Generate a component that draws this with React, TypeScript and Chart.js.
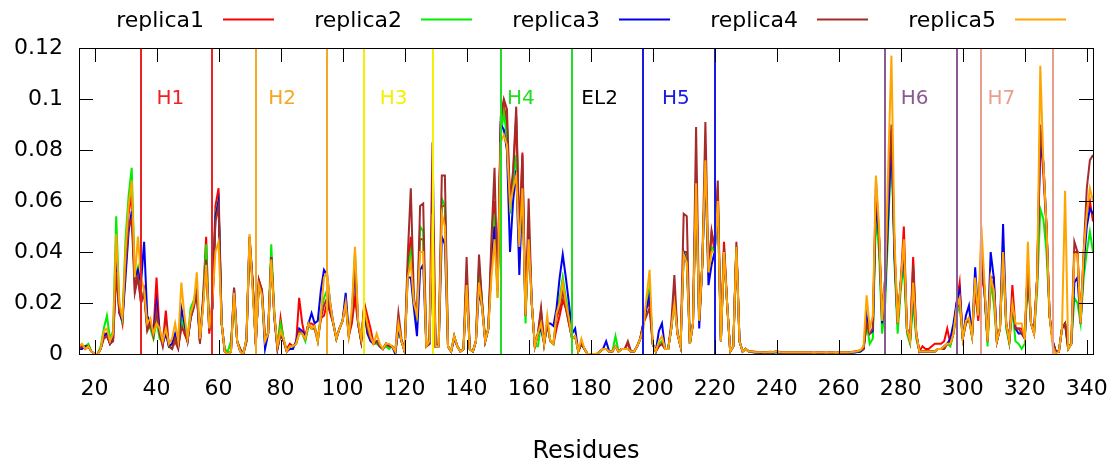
import React, { useEffect, useRef } from 'react';
import { Chart, registerables } from 'chart.js';

Chart.register(...registerables);

// Residue numbering: first value belongs to residue 15, one value per residue up to 342
const startResidue = 15;

const replica1 = [
  0.002, 0.003, 0.002, 0.003, 0.001, 0, 0, 0.002, 0.008, 0.008,
  0.004, 0.006, 0.033, 0.018, 0.012, 0.035, 0.055, 0.063, 0.025, 0.032,
  0.020, 0.025, 0.010, 0.013, 0.008, 0.030, 0.008, 0.004, 0.017, 0.003,
  0.002, 0.005, 0.002, 0.012, 0.008, 0.005, 0.015, 0.020, 0.025, 0.005,
  0.022, 0.046, 0.008, 0.020, 0.058, 0.065, 0.012, 0.001, 0, 0.001,
  0.024, 0.005, 0.001, 0, 0.005, 0.044, 0.028, 0.003, 0.029, 0.025,
  0.006, 0.008, 0.038, 0.015, 0.002, 0.014, 0.005, 0.002, 0.004, 0.003,
  0.004, 0.022, 0.012, 0.006, 0.012, 0.012, 0.011, 0.006, 0.014, 0.015,
  0.020, 0.016, 0.012, 0.006, 0.010, 0.013, 0.020, 0.007, 0.012, 0.022,
  0.012, 0.005, 0.020, 0.015, 0.010, 0.004, 0.005, 0.003, 0.002, 0.004,
  0.003, 0.003, 0.001, 0.010, 0.005, 0.001, 0.033, 0.046, 0.020, 0.015,
  0.045, 0.045, 0.003, 0.004, 0.055, 0.003, 0.003, 0.058, 0.058, 0.003,
  0.001, 0.007, 0.003, 0.001, 0.002, 0.030, 0.002, 0.001, 0.005, 0.034,
  0.020, 0.005, 0.010, 0.040, 0.060, 0.025, 0.090, 0.098, 0.090, 0.060,
  0.070, 0.093, 0.045, 0.079, 0.015, 0.050, 0.020, 0.003, 0.008, 0.017,
  0.004, 0.012, 0.005, 0.004, 0.010, 0.015, 0.021, 0.018, 0.012, 0.006,
  0.007, 0.001, 0.004, 0.002, 0, 0, 0, 0, 0.001, 0.002,
  0.002, 0.001, 0.001, 0.003, 0.001, 0.002, 0.002, 0.004, 0.001, 0.001,
  0.003, 0.006, 0.012, 0.018, 0.020, 0.004, 0.001, 0.003, 0.004, 0.002,
  0.002, 0.010, 0.025, 0.008, 0.003, 0.040, 0.040, 0.004, 0.012, 0.068,
  0.013, 0.035, 0.074, 0.032, 0.048, 0.040, 0.065, 0.005, 0.044, 0.020,
  0.001, 0.003, 0.042, 0.005, 0.001, 0.002, 0.001, 0.001, 0.0008, 0.0006,
  0.0006, 0.0005, 0.0006, 0.0008, 0.0006, 0.001, 0.0006, 0.0005, 0.0005, 0.0006,
  0.0005, 0.0006, 0.0005, 0.0005, 0.0006, 0.0005, 0.0005, 0.0004, 0.0005, 0.0005,
  0.0005, 0.0004, 0.0005, 0.0005, 0.0004, 0.0005, 0.0005, 0.0006, 0.0005, 0.0006,
  0.0008, 0.001, 0.001, 0.002, 0.012, 0.008, 0.009, 0.062, 0.046, 0.015,
  0.030, 0.060, 0.088, 0.040, 0.012, 0.028, 0.050, 0.010, 0.005, 0.038,
  0.008, 0.001, 0.003, 0.002, 0.002, 0.003, 0.004, 0.004, 0.004, 0.005,
  0.010, 0.004, 0.008, 0.020, 0.028, 0.006, 0.012, 0.014, 0.007, 0.025,
  0.013, 0.030, 0.025, 0.005, 0.030, 0.030, 0.005, 0.010, 0.040, 0.012,
  0.005, 0.027, 0.010, 0.010, 0.010, 0.006, 0.035, 0.012, 0.008, 0.030,
  0.088, 0.070, 0.050, 0.015, 0.005, 0.001, 0.001, 0.010, 0.012, 0.002,
  0.004, 0.040, 0.040, 0.012, 0.040, 0.055, 0.060, 0.052,
];

const replica2 = [
  0.003, 0.003, 0.003, 0.004, 0.001, 0, 0, 0.003, 0.010, 0.015,
  0.006, 0.009, 0.054, 0.020, 0.012, 0.045, 0.062, 0.073, 0.030, 0.034,
  0.022, 0.024, 0.011, 0.010, 0.006, 0.013, 0.006, 0.005, 0.010, 0.003,
  0.002, 0.006, 0.003, 0.014, 0.010, 0.006, 0.018, 0.021, 0.026, 0.006,
  0.020, 0.043, 0.010, 0.018, 0.055, 0.060, 0.012, 0.002, 0.001, 0.005,
  0.020, 0.005, 0.002, 0, 0.005, 0.045, 0.027, 0.004, 0.028, 0.024,
  0.004, 0.009, 0.043, 0.016, 0.003, 0.012, 0.006, 0.001, 0.003, 0.003,
  0.004, 0.008, 0.008, 0.005, 0.011, 0.010, 0.010, 0.005, 0.016, 0.022,
  0.025, 0.018, 0.012, 0.006, 0.010, 0.013, 0.021, 0.008, 0.015, 0.040,
  0.013, 0.006, 0.017, 0.009, 0.006, 0.004, 0.004, 0.003, 0.002, 0.003,
  0.002, 0.003, 0.001, 0.010, 0.005, 0.001, 0.033, 0.040, 0.020, 0.014,
  0.050, 0.048, 0.003, 0.004, 0.055, 0.003, 0.003, 0.061, 0.058, 0.003,
  0.001, 0.007, 0.003, 0.001, 0.002, 0.030, 0.002, 0.001, 0.005, 0.035,
  0.020, 0.005, 0.010, 0.035, 0.055, 0.022, 0.085, 0.095, 0.085, 0.055,
  0.068, 0.078, 0.045, 0.070, 0.012, 0.050, 0.020, 0.003, 0.003, 0.012,
  0.004, 0.012, 0.005, 0.004, 0.015, 0.022, 0.030, 0.022, 0.015, 0.006,
  0.007, 0.001, 0.004, 0.002, 0, 0, 0, 0, 0.001, 0.002,
  0.002, 0.001, 0.001, 0.007, 0.001, 0.002, 0.002, 0.002, 0.001, 0.001,
  0.003, 0.006, 0.012, 0.020, 0.026, 0.004, 0.001, 0.004, 0.005, 0.002,
  0.002, 0.010, 0.020, 0.008, 0.003, 0.040, 0.038, 0.004, 0.012, 0.068,
  0.013, 0.035, 0.074, 0.032, 0.042, 0.040, 0.060, 0.005, 0.040, 0.020,
  0.001, 0.003, 0.042, 0.005, 0.001, 0.002, 0.001, 0.0008, 0.0006, 0.0005,
  0.0004, 0.0004, 0.0005, 0.0006, 0.0005, 0.0008, 0.0005, 0.0004, 0.0004, 0.0005,
  0.0004, 0.0005, 0.0004, 0.0004, 0.0005, 0.0004, 0.0004, 0.0004, 0.0004, 0.0004,
  0.0004, 0.0003, 0.0004, 0.0004, 0.0003, 0.0004, 0.0004, 0.0005, 0.0004, 0.0005,
  0.0006, 0.0008, 0.001, 0.002, 0.012, 0.004, 0.006, 0.055, 0.040, 0.008,
  0.020, 0.050, 0.085, 0.035, 0.008, 0.025, 0.035, 0.008, 0.004, 0.020,
  0.006, 0.001, 0.001, 0.001, 0.001, 0.001, 0.001, 0.002, 0.002, 0.002,
  0.004, 0.003, 0.008, 0.015, 0.020, 0.006, 0.012, 0.014, 0.007, 0.028,
  0.015, 0.040, 0.025, 0.003, 0.028, 0.020, 0.005, 0.010, 0.038, 0.010,
  0.004, 0.018, 0.005, 0.004, 0.002, 0.004, 0.032, 0.012, 0.008, 0.025,
  0.057, 0.053, 0.040, 0.015, 0.005, 0.001, 0.001, 0.010, 0.012, 0.002,
  0.004, 0.022, 0.020, 0.012, 0.030, 0.040, 0.048, 0.040,
];

const replica3 = [
  0.002, 0.002, 0.003, 0.003, 0.001, 0, 0, 0.002, 0.007, 0.008,
  0.004, 0.006, 0.038, 0.016, 0.013, 0.030, 0.048, 0.056, 0.030, 0.033,
  0.028, 0.044, 0.015, 0.012, 0.008, 0.020, 0.009, 0.004, 0.008, 0.003,
  0.004, 0.008, 0.003, 0.018, 0.012, 0.005, 0.014, 0.019, 0.024, 0.005,
  0.020, 0.036, 0.010, 0.018, 0.054, 0.060, 0.012, 0.001, 0, 0.001,
  0.026, 0.005, 0.001, 0, 0.006, 0.046, 0.028, 0.004, 0.027, 0.024,
  0.002, 0.008, 0.038, 0.014, 0.002, 0.008, 0.005, 0.001, 0.002, 0.002,
  0.005, 0.010, 0.009, 0.007, 0.012, 0.016, 0.012, 0.013, 0.025, 0.033,
  0.031, 0.020, 0.012, 0.006, 0.010, 0.013, 0.024, 0.008, 0.015, 0.035,
  0.012, 0.005, 0.017, 0.008, 0.005, 0.004, 0.005, 0.003, 0.002, 0.004,
  0.003, 0.003, 0, 0.010, 0.005, 0.001, 0.030, 0.030, 0.018, 0.007,
  0.033, 0.035, 0.003, 0.004, 0.052, 0.003, 0.003, 0.046, 0.043, 0.003,
  0.001, 0.006, 0.003, 0.001, 0.002, 0.028, 0.002, 0.001, 0.005, 0.025,
  0.018, 0.005, 0.010, 0.035, 0.050, 0.025, 0.090, 0.088, 0.080, 0.040,
  0.060, 0.072, 0.031, 0.065, 0.015, 0.048, 0.020, 0.003, 0.008, 0.010,
  0.004, 0.012, 0.012, 0.011, 0.018, 0.030, 0.039, 0.030, 0.020, 0.008,
  0.010, 0.001, 0.004, 0.002, 0, 0, 0, 0, 0.001, 0.002,
  0.005, 0.001, 0.001, 0.003, 0.001, 0.002, 0.002, 0.002, 0.001, 0.001,
  0.003, 0.006, 0.012, 0.018, 0.023, 0.004, 0.001, 0.009, 0.012, 0.002,
  0.002, 0.010, 0.022, 0.008, 0.003, 0.040, 0.036, 0.004, 0.012, 0.070,
  0.010, 0.035, 0.074, 0.027, 0.035, 0.040, 0.060, 0.005, 0.040, 0.020,
  0.001, 0.003, 0.042, 0.005, 0.001, 0.002, 0.001, 0.0008, 0.0006, 0.0005,
  0.0004, 0.0004, 0.0005, 0.0006, 0.0005, 0.0008, 0.0005, 0.0004, 0.0004, 0.0005,
  0.0004, 0.0005, 0.0004, 0.0004, 0.0005, 0.0004, 0.0004, 0.0004, 0.0004, 0.0004,
  0.0004, 0.0003, 0.0004, 0.0004, 0.0003, 0.0004, 0.0004, 0.0005, 0.0004, 0.0005,
  0.0006, 0.0008, 0.001, 0.002, 0.015, 0.008, 0.009, 0.060, 0.046, 0.012,
  0.025, 0.055, 0.085, 0.038, 0.012, 0.028, 0.040, 0.010, 0.005, 0.025,
  0.008, 0.001, 0.001, 0.001, 0.001, 0.001, 0.001, 0.002, 0.002, 0.003,
  0.004, 0.006, 0.012, 0.020, 0.025, 0.006, 0.015, 0.019, 0.007, 0.034,
  0.015, 0.040, 0.025, 0.005, 0.040, 0.030, 0.005, 0.010, 0.051, 0.012,
  0.005, 0.020, 0.010, 0.008, 0.008, 0.006, 0.035, 0.012, 0.010, 0.030,
  0.083, 0.075, 0.050, 0.015, 0.005, 0.001, 0.001, 0.010, 0.012, 0.003,
  0.004, 0.028, 0.030, 0.012, 0.035, 0.050, 0.057, 0.055,
];

const replica4 = [
  0.002, 0.003, 0.002, 0.003, 0.001, 0, 0, 0.002, 0.006, 0.007,
  0.004, 0.005, 0.032, 0.016, 0.014, 0.035, 0.050, 0.053, 0.024, 0.030,
  0.020, 0.024, 0.009, 0.012, 0.007, 0.017, 0.008, 0.003, 0.012, 0.003,
  0.002, 0.006, 0.003, 0.010, 0.009, 0.005, 0.014, 0.018, 0.024, 0.004,
  0.020, 0.037, 0.009, 0.018, 0.052, 0.058, 0.012, 0.001, 0, 0.001,
  0.026, 0.005, 0.002, 0, 0.005, 0.046, 0.028, 0.004, 0.029, 0.025,
  0.006, 0.008, 0.038, 0.015, 0.002, 0.008, 0.005, 0.001, 0.003, 0.003,
  0.004, 0.009, 0.008, 0.006, 0.012, 0.010, 0.010, 0.005, 0.014, 0.019,
  0.022, 0.017, 0.012, 0.006, 0.010, 0.013, 0.020, 0.007, 0.014, 0.035,
  0.012, 0.005, 0.019, 0.010, 0.006, 0.004, 0.005, 0.003, 0.002, 0.004,
  0.003, 0.003, 0.001, 0.016, 0.006, 0.001, 0.038, 0.065, 0.022, 0.015,
  0.058, 0.059, 0.003, 0.004, 0.083, 0.003, 0.004, 0.070, 0.070, 0.003,
  0.001, 0.007, 0.003, 0.001, 0.002, 0.038, 0.002, 0.001, 0.005, 0.039,
  0.020, 0.005, 0.010, 0.045, 0.073, 0.025, 0.093, 0.100, 0.096, 0.060,
  0.072, 0.097, 0.045, 0.078, 0.015, 0.061, 0.020, 0.003, 0.008, 0.018,
  0.004, 0.012, 0.005, 0.004, 0.014, 0.018, 0.025, 0.018, 0.012, 0.006,
  0.007, 0.001, 0.004, 0.002, 0, 0, 0, 0, 0.001, 0.002,
  0.002, 0.001, 0.001, 0.003, 0.001, 0.002, 0.002, 0.005, 0.001, 0.001,
  0.003, 0.006, 0.012, 0.015, 0.018, 0.004, 0.001, 0.003, 0.004, 0.002,
  0.002, 0.012, 0.031, 0.008, 0.003, 0.055, 0.054, 0.004, 0.012, 0.089,
  0.013, 0.035, 0.091, 0.032, 0.048, 0.042, 0.068, 0.005, 0.042, 0.020,
  0.001, 0.003, 0.044, 0.005, 0.001, 0.002, 0.001, 0.001, 0.0009, 0.0008,
  0.0008, 0.0007, 0.0008, 0.0009, 0.0008, 0.0012, 0.0008, 0.0007, 0.0007, 0.0008,
  0.0007, 0.0008, 0.0007, 0.0007, 0.0008, 0.0007, 0.0007, 0.0006, 0.0007, 0.0007,
  0.0007, 0.0006, 0.0007, 0.0007, 0.0006, 0.0007, 0.0007, 0.0008, 0.0007, 0.0008,
  0.001, 0.0012, 0.0015, 0.002, 0.012, 0.008, 0.010, 0.068, 0.046, 0.015,
  0.030, 0.065, 0.090, 0.040, 0.012, 0.028, 0.043, 0.010, 0.005, 0.035,
  0.008, 0.001, 0.001, 0.001, 0.001, 0.001, 0.001, 0.002, 0.002, 0.002,
  0.004, 0.004, 0.008, 0.018, 0.020, 0.006, 0.012, 0.014, 0.007, 0.028,
  0.015, 0.043, 0.025, 0.005, 0.030, 0.025, 0.005, 0.010, 0.040, 0.012,
  0.005, 0.020, 0.010, 0.010, 0.008, 0.006, 0.035, 0.012, 0.008, 0.030,
  0.090, 0.075, 0.050, 0.015, 0.005, 0.001, 0.001, 0.010, 0.012, 0.002,
  0.004, 0.044, 0.040, 0.012, 0.040, 0.065, 0.076, 0.078,
];

const replica5 = [
  0.003, 0.004, 0.002, 0.003, 0.001, 0, 0, 0.002, 0.009, 0.010,
  0.005, 0.008, 0.047, 0.020, 0.014, 0.040, 0.058, 0.068, 0.030, 0.046,
  0.030, 0.025, 0.012, 0.014, 0.008, 0.012, 0.010, 0.005, 0.010, 0.004,
  0.006, 0.012, 0.005, 0.028, 0.015, 0.006, 0.016, 0.020, 0.032, 0.006,
  0.018, 0.035, 0.010, 0.020, 0.040, 0.044, 0.012, 0.001, 0, 0.001,
  0.024, 0.005, 0.001, 0, 0.006, 0.047, 0.025, 0.004, 0.027, 0.023,
  0.005, 0.008, 0.037, 0.015, 0.003, 0.009, 0.006, 0.001, 0.003, 0.003,
  0.004, 0.008, 0.008, 0.006, 0.012, 0.010, 0.011, 0.005, 0.015, 0.030,
  0.032, 0.020, 0.012, 0.006, 0.010, 0.013, 0.020, 0.007, 0.018, 0.042,
  0.013, 0.006, 0.018, 0.012, 0.007, 0.004, 0.008, 0.004, 0.002, 0.004,
  0.004, 0.003, 0.001, 0.012, 0.005, 0.001, 0.030, 0.036, 0.020, 0.015,
  0.040, 0.040, 0.003, 0.005, 0.055, 0.003, 0.003, 0.055, 0.050, 0.003,
  0.001, 0.007, 0.003, 0.001, 0.002, 0.027, 0.002, 0.001, 0.005, 0.028,
  0.018, 0.005, 0.010, 0.030, 0.045, 0.022, 0.083, 0.086, 0.082, 0.058,
  0.065, 0.070, 0.042, 0.065, 0.015, 0.045, 0.020, 0.003, 0.008, 0.012,
  0.004, 0.015, 0.005, 0.004, 0.016, 0.020, 0.028, 0.020, 0.014, 0.006,
  0.007, 0.001, 0.006, 0.002, 0, 0, 0, 0, 0.001, 0.002,
  0.002, 0.001, 0.001, 0.003, 0.001, 0.002, 0.002, 0.002, 0.001, 0.001,
  0.003, 0.006, 0.010, 0.022, 0.033, 0.004, 0.001, 0.005, 0.007, 0.002,
  0.002, 0.010, 0.020, 0.008, 0.003, 0.039, 0.036, 0.004, 0.012, 0.067,
  0.013, 0.035, 0.076, 0.032, 0.040, 0.040, 0.060, 0.005, 0.040, 0.020,
  0.001, 0.003, 0.042, 0.005, 0.001, 0.002, 0.001, 0.001, 0.0008, 0.0007,
  0.0007, 0.0006, 0.0007, 0.0008, 0.0007, 0.0011, 0.0007, 0.0006, 0.0006, 0.0007,
  0.0006, 0.0007, 0.0006, 0.0006, 0.0007, 0.0006, 0.0006, 0.0005, 0.0006, 0.0006,
  0.0006, 0.0005, 0.0006, 0.0006, 0.0005, 0.0006, 0.0006, 0.0007, 0.0006, 0.0007,
  0.0009, 0.0011, 0.0015, 0.003, 0.023, 0.010, 0.015, 0.070, 0.050, 0.013,
  0.030, 0.075, 0.117, 0.045, 0.012, 0.028, 0.045, 0.010, 0.005, 0.028,
  0.008, 0.001, 0.001, 0.001, 0.001, 0.001, 0.001, 0.002, 0.002, 0.003,
  0.004, 0.004, 0.008, 0.018, 0.022, 0.006, 0.013, 0.014, 0.007, 0.030,
  0.015, 0.050, 0.028, 0.005, 0.030, 0.025, 0.005, 0.010, 0.040, 0.012,
  0.005, 0.020, 0.012, 0.012, 0.012, 0.006, 0.044, 0.012, 0.008, 0.030,
  0.113, 0.075, 0.050, 0.015, 0.003, 0, 0.001, 0.010, 0.064, 0.002,
  0.004, 0.039, 0.039, 0.012, 0.040, 0.055, 0.065, 0.060,
];

const seriesNames = ['replica1', 'replica2', 'replica3', 'replica4', 'replica5'];
const seriesColors = ['#ff0000', '#00ee00', '#0000ee', '#a52a2a', '#ffa500'];

const xMin = 15;
const xMax = 342;
const xTickValues = [20, 40, 60, 80, 100, 120, 140, 160, 180, 200, 220, 240, 260, 280, 300, 320, 340];
const yTickValues = [0, 0.02, 0.04, 0.06, 0.08, 0.1, 0.12];
const yTickLabels = ['0', '0.02', '0.04', '0.06', '0.08', '0.1', '0.12'];

// Helix boundary markers (residue numbers) and their colours
const helixLines = [35, 58, 72, 95, 107, 129, 151, 174, 197, 220, 275, 298, 306, 329];
const helixLineColors = [
  '#ee2222', '#ee2222', '#f5a623', '#f5a623', '#f5f000', '#f5f000', '#22dd22', '#22dd22',
  '#1a1ae6', '#1a1ae6', '#8a5a94', '#8a5a94', '#e8a08c', '#e8a08c',
];
const regionLabels = ['H1', 'H2', 'H3', 'H4', 'EL2', 'H5', 'H6', 'H7'];
const regionLabelX = [40, 76, 112, 153, 177, 203, 280, 308];
const regionLabelColors = ['#ee2222', '#f5a623', '#f5f000', '#22dd22', '#000000', '#1a1ae6', '#8a5a94', '#e8a08c'];
const regionLabelY = 0.1;

const FONT = '"DejaVu Sans", "Liberation Sans", sans-serif';

const decorPlugin = {
  id: 'decor',
  afterDatasetsDraw(chart: any) {
    const { ctx, chartArea: a, scales } = chart;
    const xs = scales.x;
    const ys = scales.y;
    ctx.save();

    // helix boundary lines
    ctx.lineWidth = 2;
    helixLines.forEach((r, i) => {
      const px = Math.round(xs.getPixelForValue(r));
      ctx.strokeStyle = helixLineColors[i];
      ctx.beginPath();
      ctx.moveTo(px, a.top);
      ctx.lineTo(px, a.bottom);
      ctx.stroke();
    });

    // region labels
    ctx.font = `20px ${FONT}`;
    ctx.textAlign = 'left';
    ctx.textBaseline = 'middle';
    regionLabels.forEach((t, i) => {
      ctx.fillStyle = regionLabelColors[i];
      ctx.fillText(t, xs.getPixelForValue(regionLabelX[i]), ys.getPixelForValue(regionLabelY));
    });

    // frame
    ctx.strokeStyle = '#000';
    ctx.lineWidth = 1;
    ctx.strokeRect(Math.round(a.left) + 0.5, Math.round(a.top) + 0.5, Math.round(a.right - a.left), Math.round(a.bottom - a.top));

    // inward mirrored ticks
    const tl = 14;
    ctx.beginPath();
    xTickValues.forEach((v) => {
      const px = Math.round(xs.getPixelForValue(v)) + 0.5;
      ctx.moveTo(px, a.bottom);
      ctx.lineTo(px, a.bottom - tl);
      ctx.moveTo(px, a.top);
      ctx.lineTo(px, a.top + tl);
    });
    yTickValues.forEach((v) => {
      const py = Math.round(ys.getPixelForValue(v)) + 0.5;
      ctx.moveTo(a.left, py);
      ctx.lineTo(a.left + tl, py);
      ctx.moveTo(a.right, py);
      ctx.lineTo(a.right - tl, py);
    });
    ctx.stroke();

    // legend: text then line sample
    ctx.font = `22px ${FONT}`;
    ctx.textAlign = 'right';
    ctx.textBaseline = 'middle';
    seriesNames.forEach((name, i) => {
      const textRight = 204 + i * 198;
      const lineStart = 223 + i * 198;
      ctx.fillStyle = '#000';
      ctx.fillText(name, textRight, 21);
      ctx.strokeStyle = seriesColors[i];
      ctx.lineWidth = 2;
      ctx.beginPath();
      ctx.moveTo(lineStart, 19.5);
      ctx.lineTo(lineStart + 51, 19.5);
      ctx.stroke();
    });

    ctx.restore();
  },
};

export default function App() {
  const ref = useRef<HTMLCanvasElement>(null);

  useEffect(() => {
    const canvas = ref.current;
    if (!canvas) return;
    const series = [replica1, replica2, replica3, replica4, replica5];
    const datasets = series.map((vals, i) => ({
      label: seriesNames[i],
      data: vals.map((v, j) => ({ x: startResidue + j, y: v })),
      borderColor: seriesColors[i],
      backgroundColor: seriesColors[i],
      borderWidth: 2,
      pointRadius: 0,
      tension: 0,
      fill: false,
      order: series.length - i,
    }));

    const chart = new Chart(canvas, {
      type: 'line',
      data: { datasets },
      options: {
        animation: false,
        responsive: false,
        devicePixelRatio: 1,
        layout: { padding: { top: 48, right: 24, bottom: 0, left: 0 } },
        plugins: {
          legend: { display: false },
          tooltip: { enabled: false },
          title: { display: false },
        },
        scales: {
          x: {
            type: 'linear',
            min: xMin,
            max: xMax,
            grid: { display: false, drawTicks: false },
            border: { display: false },
            afterBuildTicks: (scale: any) => {
              scale.ticks = xTickValues.map((v) => ({ value: v }));
            },
            afterFit: (scale: any) => {
              scale.height = 110;
              scale.paddingLeft = 0;
              scale.paddingRight = 0;
            },
            ticks: {
              autoSkip: false,
              maxRotation: 0,
              minRotation: 0,
              padding: 22,
              color: '#000',
              font: { family: FONT, size: 22 },
              callback: (v: any) => String(v),
            },
            title: {
              display: true,
              text: 'Residues',
              color: '#000',
              font: { family: FONT, size: 24, lineHeight: 1 },
              padding: { top: 0, bottom: 0 },
            },
          },
          y: {
            type: 'linear',
            min: 0,
            max: 0.12,
            grid: { display: false, drawTicks: false },
            border: { display: false },
            afterBuildTicks: (scale: any) => {
              scale.ticks = yTickValues.map((v) => ({ value: v }));
            },
            afterFit: (scale: any) => {
              scale.width = 79;
              scale.paddingTop = 0;
              scale.paddingBottom = 0;
            },
            ticks: {
              padding: 16,
              color: '#000',
              font: { family: FONT, size: 22 },
              callback: (_v: any, idx: number) => yTickLabels[idx],
            },
          },
        },
      },
      plugins: [decorPlugin],
    });

    return () => chart.destroy();
  }, []);

  return (
    <div style={{ position: 'absolute', left: 0, top: 0, width: 1117, height: 464, background: '#fff' }}>
      <canvas ref={ref} width={1117} height={464} style={{ display: 'block', width: 1117, height: 464 }} />
    </div>
  );
}
